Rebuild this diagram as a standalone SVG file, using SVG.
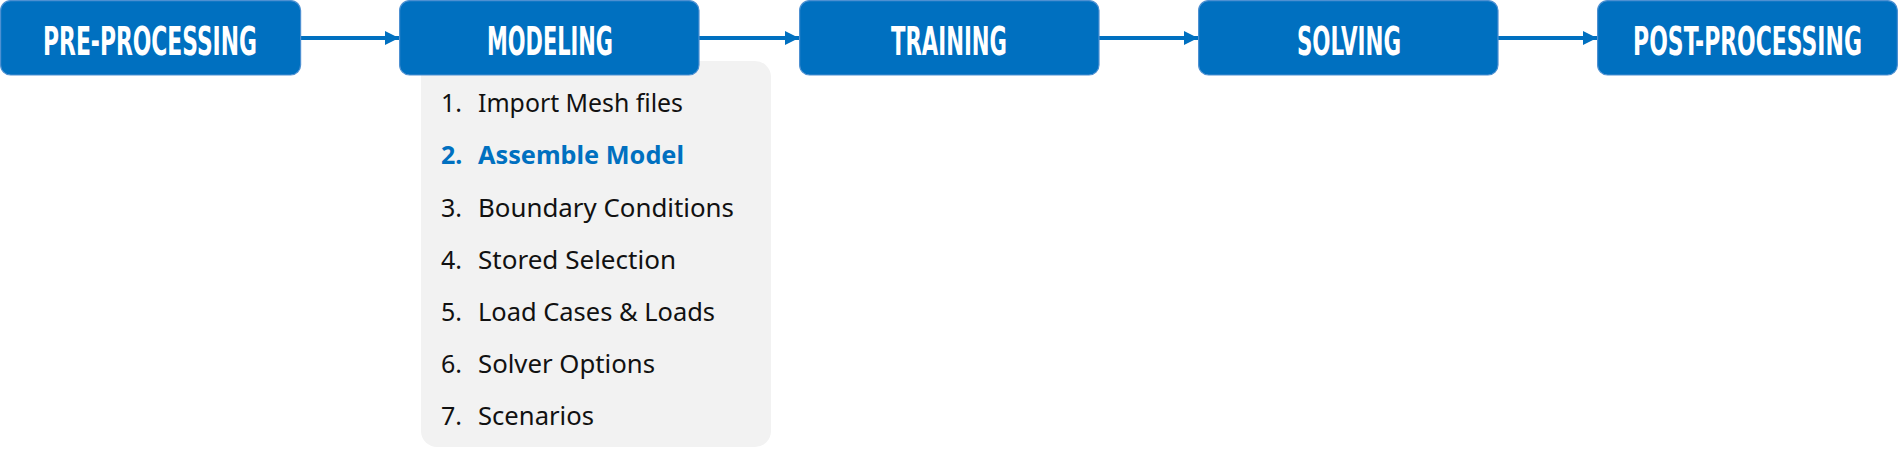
<svg xmlns="http://www.w3.org/2000/svg" width="1898" height="454" viewBox="0 0 1898 454">
<style>
.box{fill:#0070C0;stroke:#4d90d2;stroke-width:1.2}
.bt{font-family:"DejaVu Sans Condensed","DejaVu Sans",sans-serif;font-stretch:condensed;font-weight:bold;font-size:38.5px;fill:#ffffff;text-anchor:middle}
.conn{stroke:#0070C0;stroke-width:4;fill:none}
.li{font-family:"Noto Sans","Open Sans",sans-serif;font-size:25px;fill:#111111}
.hl{fill:#0070C0;font-weight:bold}
</style>
<defs>
<marker id="ah" markerUnits="userSpaceOnUse" markerWidth="16" markerHeight="16" viewBox="0 0 16 16" refX="15" refY="8" orient="auto">
<path d="M1,1 L15,8 L1,15 Z" fill="#0070C0"/>
</marker>
</defs>
<rect width="1898" height="454" fill="#ffffff"/>
<g id="modeling-list">
<rect x="421" y="61" width="350" height="386" rx="16" fill="#f2f2f2"/>
<g class="li">
<text x="441" y="112">1.</text><text x="478" y="112" textLength="205" lengthAdjust="spacingAndGlyphs">Import Mesh files</text>
<text x="441" y="164" class="hl">2.</text><text x="478" y="164" class="hl" textLength="206" lengthAdjust="spacingAndGlyphs">Assemble Model</text>
<text x="441" y="217">3.</text><text x="478" y="217" textLength="256" lengthAdjust="spacingAndGlyphs">Boundary Conditions</text>
<text x="441" y="269">4.</text><text x="478" y="269" textLength="198" lengthAdjust="spacingAndGlyphs">Stored Selection</text>
<text x="441" y="321">5.</text><text x="478" y="321" textLength="237" lengthAdjust="spacingAndGlyphs">Load Cases &amp; Loads</text>
<text x="441" y="373">6.</text><text x="478" y="373" textLength="177" lengthAdjust="spacingAndGlyphs">Solver Options</text>
<text x="441" y="425">7.</text><text x="478" y="425" textLength="116" lengthAdjust="spacingAndGlyphs">Scenarios</text>
</g>
</g>
<g id="connectors">
<line class="conn" x1="300" y1="38" x2="399" y2="38" marker-end="url(#ah)"/>
<line class="conn" x1="699" y1="38" x2="799" y2="38" marker-end="url(#ah)"/>
<line class="conn" x1="1099" y1="38" x2="1198" y2="38" marker-end="url(#ah)"/>
<line class="conn" x1="1498" y1="38" x2="1597" y2="38" marker-end="url(#ah)"/>
</g>
<g id="pre-processing">
<rect class="box" x="0.6" y="0.6" width="300" height="74.4" rx="10"/>
<text class="bt" transform="translate(150,55) scale(0.62,1)" x="0" y="0" textLength="345" lengthAdjust="spacingAndGlyphs">PRE-PROCESSING</text>
</g>
<g id="modeling">
<rect class="box" x="399.6" y="0.6" width="299.4" height="74.4" rx="10"/>
<text class="bt" transform="translate(550,55) scale(0.62,1)" x="0" y="0" textLength="203" lengthAdjust="spacingAndGlyphs">MODELING</text>
</g>
<g id="training">
<rect class="box" x="799.6" y="0.6" width="299.4" height="74.4" rx="10"/>
<text class="bt" transform="translate(949,55) scale(0.62,1)" x="0" y="0" textLength="187" lengthAdjust="spacingAndGlyphs">TRAINING</text>
</g>
<g id="solving">
<rect class="box" x="1198.6" y="0.6" width="299.4" height="74.4" rx="10"/>
<text class="bt" transform="translate(1349,55) scale(0.62,1)" x="0" y="0" textLength="168" lengthAdjust="spacingAndGlyphs">SOLVING</text>
</g>
<g id="post-processing">
<rect class="box" x="1597.6" y="0.6" width="299.8" height="74.4" rx="10"/>
<text class="bt" transform="translate(1747.5,55) scale(0.62,1)" x="0" y="0" textLength="369" lengthAdjust="spacingAndGlyphs">POST-PROCESSING</text>
</g>
</svg>
